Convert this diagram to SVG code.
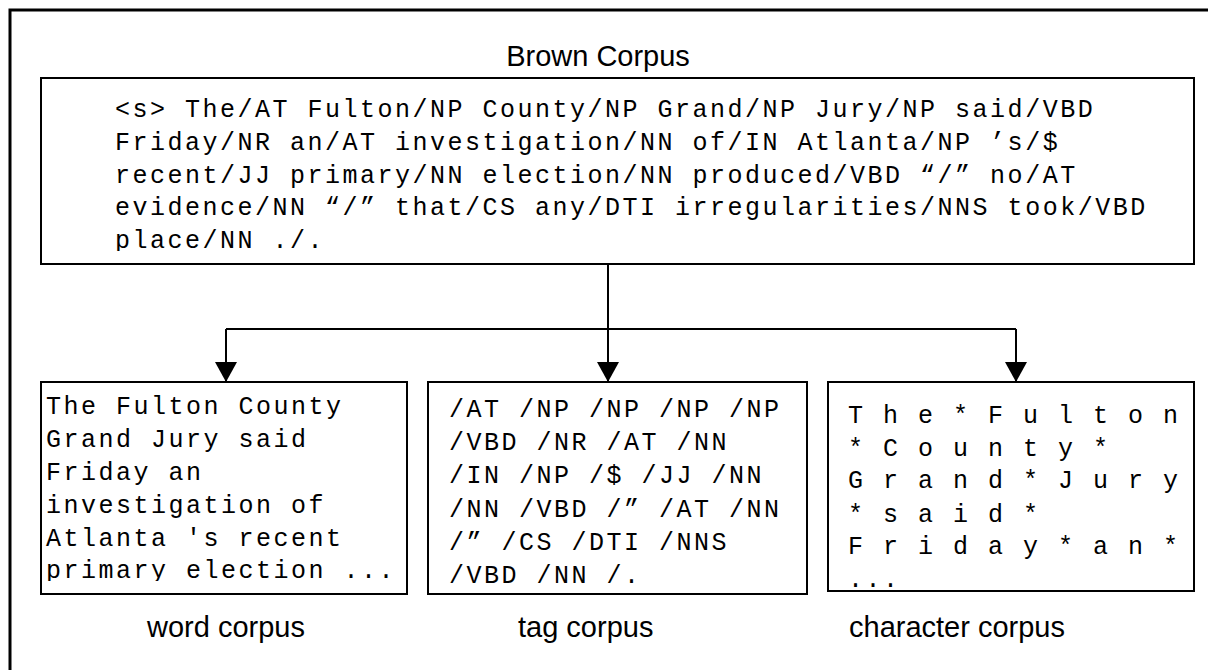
<svg xmlns="http://www.w3.org/2000/svg" width="1208" height="670" viewBox="0 0 1208 670">
<style>
.frame{fill:none;stroke:#000;stroke-width:3}
.box{fill:#fff;stroke:#000;stroke-width:2}
.mono{font-family:"Liberation Mono","DejaVu Sans Mono",monospace;font-size:25px;letter-spacing:2.5px;fill:#000;white-space:pre}
.label{font-family:"Liberation Sans",Arial,sans-serif;font-size:29px;fill:#000}
.conn{fill:none;stroke:#000;stroke-width:2}
</style>
<defs>
<marker id="arr" markerWidth="11" markerHeight="10" refX="10" refY="5" orient="auto" markerUnits="userSpaceOnUse" viewBox="0 0 11 10">
<path d="M0,0 L11,5 L0,10 Z" fill="#000"/>
</marker>
<marker id="arrow" viewBox="0 0 20 22" markerWidth="20" markerHeight="22" refX="20" refY="11" orient="auto" markerUnits="userSpaceOnUse">
<path d="M0,0 L20,11 L0,22 Z" fill="#000"/>
</marker>
<clipPath id="cTop"><rect x="41" y="78" width="1153" height="173"/></clipPath>
<clipPath id="cWord"><rect x="41" y="382" width="366" height="199"/></clipPath>
<clipPath id="cTag"><rect x="428" y="382" width="379" height="212"/></clipPath>
<clipPath id="cChar"><rect x="828" y="382" width="366" height="207"/></clipPath>
</defs>
<rect x="10" y="10" width="1300" height="800" class="frame"/>
<text x="598" y="66" class="label" text-anchor="middle">Brown Corpus</text>
<g id="connectors">
<line x1="608" y1="264" x2="608" y2="329" class="conn"/>
<line x1="226" y1="329" x2="1016" y2="329" class="conn"/>
<line x1="226" y1="329" x2="226" y2="382" class="conn" marker-end="url(#arrow)"/>
<line x1="608" y1="329" x2="608" y2="382" class="conn" marker-end="url(#arrow)"/>
<line x1="1016" y1="329" x2="1016" y2="382" class="conn" marker-end="url(#arrow)"/>
</g>
<g id="brown">
<rect x="41" y="78" width="1153" height="186" class="box"/>
<g clip-path="url(#cTop)" class="mono">
<text x="115" y="117">&lt;s&gt; The/AT Fulton/NP County/NP Grand/NP Jury/NP said/VBD</text>
<text x="115" y="150">Friday/NR an/AT investigation/NN of/IN Atlanta/NP ’s/$</text>
<text x="115" y="183">recent/JJ primary/NN election/NN produced/VBD “/” no/AT</text>
<text x="115" y="215">evidence/NN “/” that/CS any/DTI irregularities/NNS took/VBD</text>
<text x="115" y="248">place/NN ./.</text>
</g>
</g>
<g id="word">
<rect x="41" y="382" width="366" height="212" class="box"/>
<g clip-path="url(#cWord)" class="mono">
<text x="46" y="414">The Fulton County</text>
<text x="46" y="447">Grand Jury said</text>
<text x="46" y="480">Friday an</text>
<text x="46" y="513">investigation of</text>
<text x="46" y="546">Atlanta 's recent</text>
<text x="46" y="578">primary election ...</text>
</g>
<text x="147" y="637" class="label">word corpus</text>
</g>
<g id="tag">
<rect x="428" y="382" width="379" height="212" class="box"/>
<g clip-path="url(#cTag)" class="mono">
<text x="449" y="417">/AT /NP /NP /NP /NP</text>
<text x="449" y="450">/VBD /NR /AT /NN</text>
<text x="449" y="483">/IN /NP /$ /JJ /NN</text>
<text x="449" y="517">/NN /VBD /” /AT /NN</text>
<text x="449" y="550">/” /CS /DTI /NNS</text>
<text x="449" y="583">/VBD /NN /.</text>
</g>
<text x="518" y="637" class="label">tag corpus</text>
</g>
<g id="char">
<rect x="828" y="382" width="366" height="209" class="box"/>
<g clip-path="url(#cChar)" class="mono">
<text x="848" y="423">T h e * F u l t o n</text>
<text x="848" y="456">* C o u n t y *</text>
<text x="848" y="488">G r a n d * J u r y</text>
<text x="848" y="522">* s a i d *</text>
<text x="848" y="554">F r i d a y * a n *</text>
<text x="848" y="587">...</text>
</g>
<text x="849" y="637" class="label">character corpus</text>
</g>
</svg>
